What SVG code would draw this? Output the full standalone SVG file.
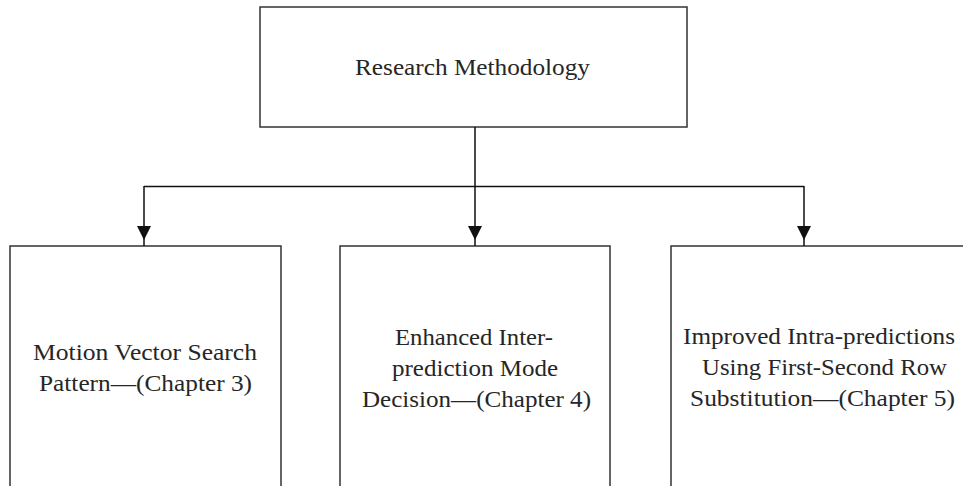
<svg xmlns="http://www.w3.org/2000/svg" width="963" height="486" viewBox="0 0 963 486">
<style>
.box{fill:#fff;stroke:#333;stroke-width:1.5}
.t{font-family:"Liberation Serif","Times New Roman",serif;font-size:23px;fill:#262626}
.ln{fill:none;stroke:#111;stroke-width:1.5}
.ah{fill:#111}
</style>
<rect width="963" height="486" fill="#fff"/>
<g id="node-research">
<rect class="box" x="260" y="7" width="427" height="120"/>
<text class="t" x="355" y="75" textLength="235" lengthAdjust="spacingAndGlyphs">Research Methodology</text>
</g>
<g id="node-ch3">
<rect class="box" x="10" y="246" width="271" height="250"/>
<text class="t" x="33" y="360" textLength="224" lengthAdjust="spacingAndGlyphs">Motion Vector Search</text>
<text class="t" x="39" y="391" textLength="213" lengthAdjust="spacingAndGlyphs">Pattern—(Chapter 3)</text>
</g>
<g id="node-ch4">
<rect class="box" x="340" y="246" width="270" height="250"/>
<text class="t" x="395" y="345" textLength="158" lengthAdjust="spacingAndGlyphs">Enhanced Inter-</text>
<text class="t" x="392" y="376" textLength="166" lengthAdjust="spacingAndGlyphs">prediction Mode</text>
<text class="t" x="362" y="407" textLength="229" lengthAdjust="spacingAndGlyphs">Decision—(Chapter 4)</text>
</g>
<g id="node-ch5">
<rect class="box" x="671" y="246" width="310" height="250"/>
<text class="t" x="683" y="344" textLength="272" lengthAdjust="spacingAndGlyphs">Improved Intra-predictions</text>
<text class="t" x="702" y="375" textLength="245" lengthAdjust="spacingAndGlyphs">Using First-Second Row</text>
<text class="t" x="690" y="406" textLength="265" lengthAdjust="spacingAndGlyphs">Substitution—(Chapter 5)</text>
</g>
<g id="connectors">
<path class="ln" d="M475 127V246M144 186.5H804M144 186V246M804 186V246"/>
<polygon class="ah" points="137,226 151,226 144,240"/>
<polygon class="ah" points="468,226 482,226 475,240"/>
<polygon class="ah" points="797,226 811,226 804,240"/>
</g>
</svg>
